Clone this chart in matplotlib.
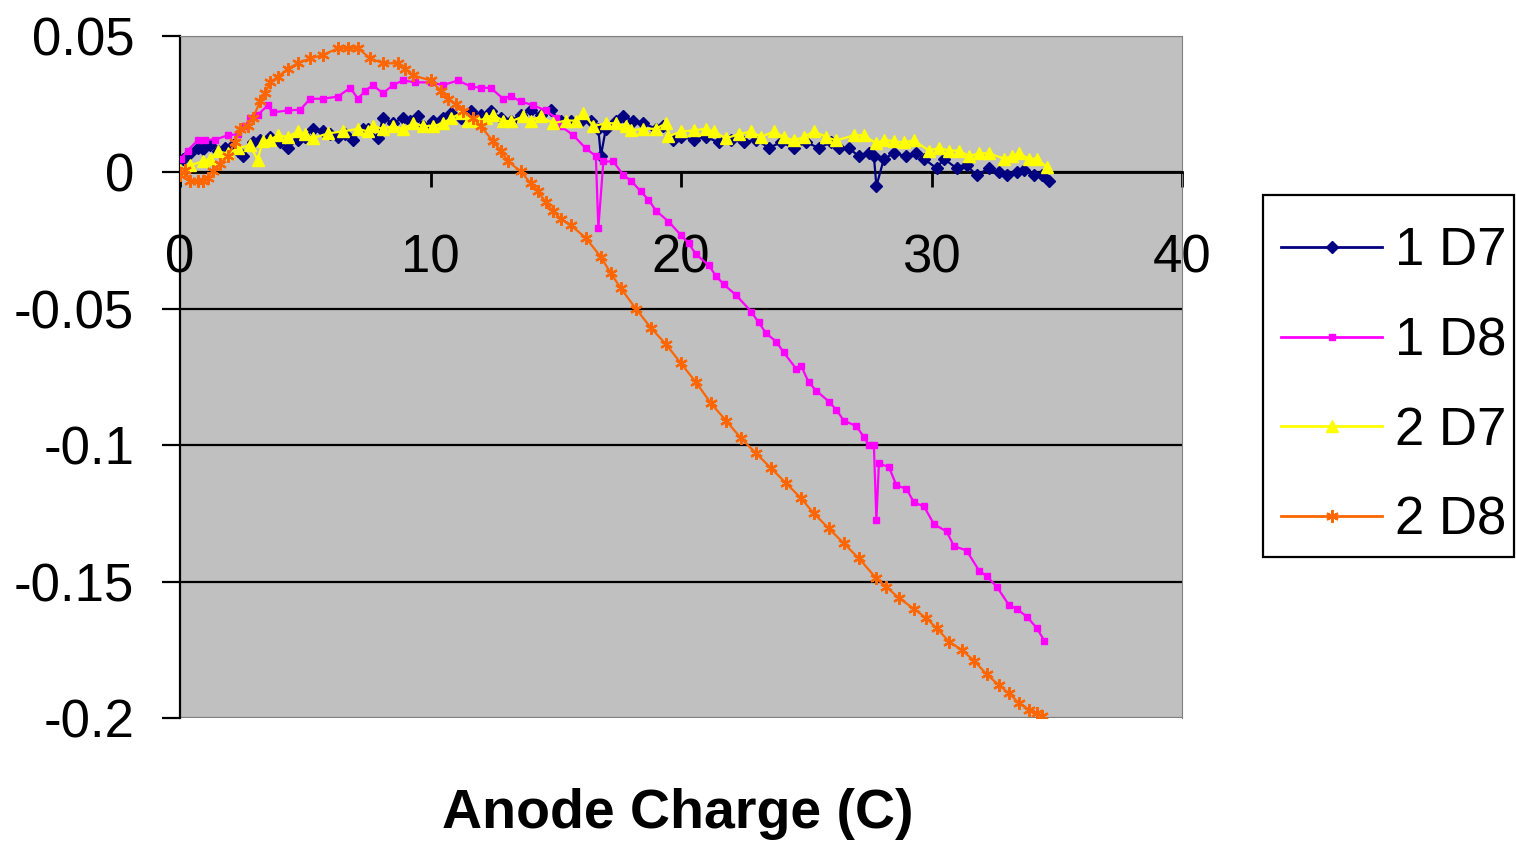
import matplotlib
matplotlib.use("Agg")
import matplotlib.pyplot as plt
from matplotlib.patches import Rectangle

plt.rcParams["font.family"] = ["Liberation Sans", "DejaVu Sans"]
plt.rcParams["axes.unicode_minus"] = False

# 1 D7 (navy, diamonds)
x_1d7 = [0.1, 0.4, 0.7, 0.9, 1.2, 1.5, 1.8, 2.1, 2.3, 2.5, 2.9, 3.2, 3.6, 4.0, 4.3,
         4.7, 5.0, 5.3, 5.7, 6.0, 6.3, 6.6, 6.9, 7.3, 7.5, 7.9, 8.1, 8.5, 8.9, 9.2,
         9.5, 9.7, 10.1, 10.5, 10.8, 11.2, 11.6, 12.0, 12.4, 12.8, 13.2, 13.6, 14.0,
         14.4, 14.8, 15.2, 15.6, 16.0, 16.4, 16.7, 16.8, 17.0, 17.4, 17.7, 18.1, 18.5,
         19.0, 19.3, 19.7, 20.0, 20.5, 21.0, 21.5, 22.0, 22.5, 23.0, 23.5, 24.0, 24.5,
         25.0, 25.5, 26.0, 26.3, 26.7, 27.1, 27.5, 27.7, 27.8, 28.1, 28.5, 29.0, 29.4,
         29.7, 30.2, 30.5, 31.0, 31.4, 31.8, 32.3, 32.7, 33.0, 33.4, 33.7, 34.1, 34.4,
         34.7]
y_1d7 = [0.005, 0.007, 0.009, 0.0085, 0.010, 0.008, 0.009, 0.010, 0.008, 0.006, 0.011,
         0.012, 0.013, 0.011, 0.009, 0.012, 0.013, 0.016, 0.015, 0.014, 0.013, 0.014,
         0.012, 0.016, 0.016, 0.0125, 0.020, 0.018, 0.020, 0.019, 0.0205, 0.017, 0.019,
         0.020, 0.0216, 0.020, 0.0224, 0.021, 0.0224, 0.020, 0.019, 0.021, 0.0227, 0.021,
         0.0227, 0.0187, 0.019, 0.0187, 0.019, 0.016, 0.006, 0.016, 0.019, 0.0205, 0.019,
         0.018, 0.016, 0.017, 0.012, 0.013, 0.012, 0.013, 0.011, 0.012, 0.011, 0.012,
         0.009, 0.011, 0.009, 0.011, 0.009, 0.011, 0.009, 0.0088, 0.006, 0.007, 0.006,
         -0.005, 0.005, 0.007, 0.006, 0.007, 0.005, 0.0015, 0.005, 0.0015, 0.0026, -0.001,
         0.0015, 0.0, -0.001, 0.0, 0.0007, -0.001, -0.001, -0.0033]

# 1 D8 (magenta, squares)
x_1d8 = [0.05, 0.3, 0.7, 1.0, 1.4, 1.9, 2.3, 2.6, 2.8, 3.1, 3.5, 3.7, 4.3, 4.8, 5.2,
         5.7, 6.3, 6.8, 7.1, 7.4, 7.7, 8.1, 8.5, 8.9, 9.4, 10.0, 10.5, 11.1, 11.6, 12.0,
         12.4, 12.9, 13.2, 13.6, 14.1, 14.6, 15.0, 15.2, 15.7, 16.2, 16.6, 16.7, 16.9,
         17.3, 17.7, 18.0, 18.4, 18.7, 19.0, 19.5, 20.0, 20.3, 20.6, 21.1, 21.4, 21.7,
         22.2, 22.8, 23.1, 23.4, 23.8, 24.1, 24.6, 24.8, 25.1, 25.4, 25.9, 26.2, 26.5,
         27.0, 27.3, 27.5, 27.7, 27.8, 27.9, 28.3, 28.6, 29.0, 29.3, 29.7, 30.1, 30.6,
         30.9, 31.4, 31.9, 32.2, 32.6, 33.1, 33.4, 33.8, 34.2, 34.5]
y_1d8 = [0.005, 0.008, 0.0117, 0.012, 0.012, 0.0136, 0.014, 0.017, 0.0198, 0.021, 0.0246,
         0.022, 0.0227, 0.023, 0.027, 0.027, 0.0278, 0.031, 0.027, 0.030, 0.032, 0.029,
         0.032, 0.0337, 0.033, 0.033, 0.032, 0.0337, 0.0315, 0.031, 0.031, 0.027, 0.028,
         0.026, 0.0246, 0.0227, 0.020, 0.017, 0.0136, 0.0088, 0.006, -0.0205, 0.004,
         0.004, -0.001, -0.003, -0.007, -0.010, -0.014, -0.018, -0.023, -0.026, -0.030,
         -0.034, -0.038, -0.041, -0.045, -0.051, -0.055, -0.059, -0.062, -0.066, -0.072,
         -0.071, -0.077, -0.080, -0.084, -0.087, -0.091, -0.093, -0.097, -0.100, -0.100,
         -0.1276, -0.1067, -0.108, -0.1147, -0.116, -0.121, -0.1224, -0.129, -0.1316,
         -0.137, -0.1386, -0.146, -0.148, -0.1518, -0.1587, -0.160, -0.1628, -0.167,
         -0.1716]

# 2 D7 (yellow, triangles)
x_2d7 = [0.0, 0.4, 0.9, 1.2, 1.5, 1.9, 2.3, 2.8, 3.1, 3.3, 3.6, 3.9, 4.3, 4.7, 5.0,
         5.3, 5.9, 6.5, 7.1, 7.5, 7.7, 8.1, 8.5, 8.9, 9.3, 9.7, 10.1, 10.5, 10.8, 11.2,
         11.5, 11.9, 12.2, 12.5, 12.9, 13.2, 13.7, 14.0, 14.4, 14.9, 15.4, 15.8, 16.1,
         16.5, 17.0, 17.4, 17.8, 18.0, 18.5, 19.0, 19.4, 19.5, 20.0, 20.5, 21.0, 21.3,
         21.8, 22.3, 22.8, 23.2, 23.7, 24.1, 24.5, 24.9, 25.3, 25.8, 26.2, 26.9, 27.3,
         27.8, 28.1, 28.5, 28.9, 29.3, 29.9, 30.3, 30.7, 31.1, 31.5, 31.9, 32.3, 32.9,
         33.2, 33.5, 33.9, 34.2, 34.6]
y_2d7 = [0.0007, 0.0026, 0.004, 0.005, 0.0077, 0.007, 0.0088, 0.010, 0.0044, 0.0114,
         0.012, 0.0136, 0.013, 0.015, 0.014, 0.0125, 0.0143, 0.015, 0.016, 0.015, 0.017,
         0.016, 0.017, 0.016, 0.018, 0.017, 0.017, 0.018, 0.0198, 0.0216, 0.019, 0.0187,
         0.020, 0.021, 0.019, 0.0187, 0.0205, 0.019, 0.0205, 0.018, 0.019, 0.019, 0.0216,
         0.017, 0.018, 0.018, 0.017, 0.0154, 0.016, 0.016, 0.018, 0.0132, 0.015, 0.0154,
         0.016, 0.015, 0.0125, 0.014, 0.015, 0.013, 0.015, 0.013, 0.0117, 0.013, 0.015,
         0.013, 0.0117, 0.0136, 0.0136, 0.0106, 0.012, 0.0114, 0.011, 0.0117, 0.008,
         0.009, 0.008, 0.008, 0.006, 0.007, 0.007, 0.005, 0.006, 0.007, 0.005, 0.005,
         0.002]

# 2 D8 (orange, stars)
x_2d8 = [0.0, 0.2, 0.4, 0.7, 0.9, 1.1, 1.3, 1.6, 1.9, 2.2, 2.4, 2.7, 2.9, 3.2, 3.4,
         3.6, 3.9, 4.3, 4.7, 5.2, 5.7, 6.3, 6.7, 7.1, 7.6, 8.1, 8.7, 9.0, 9.3, 10.0,
         10.4, 10.7, 11.0, 11.3, 11.7, 12.0, 12.5, 12.8, 13.1, 13.6, 14.0, 14.3, 14.6,
         14.9, 15.2, 15.6, 16.2, 16.8, 17.2, 17.6, 18.2, 18.8, 19.4, 20.0, 20.6, 21.2,
         21.8, 22.4, 23.0, 23.6, 24.2, 24.8, 25.3, 25.9, 26.5, 27.1, 27.8, 28.2, 28.7,
         29.3, 29.8, 30.2, 30.7, 31.2, 31.7, 32.2, 32.7, 33.1, 33.5, 33.9, 34.2, 34.4]
y_2d8 = [-0.001, 0.001, -0.0033, -0.003, -0.0033, -0.002, 0.0004, 0.003, 0.006, 0.011,
         0.016, 0.017, 0.0198, 0.026, 0.029, 0.033, 0.035, 0.038, 0.040, 0.0418, 0.043,
         0.0455, 0.0455, 0.0455, 0.0418, 0.040, 0.040, 0.038, 0.0356, 0.0337, 0.030,
         0.027, 0.025, 0.0224, 0.020, 0.017, 0.0114, 0.008, 0.004, 0.0004, -0.004,
         -0.007, -0.011, -0.0143, -0.017, -0.0194, -0.024, -0.031, -0.037, -0.0425,
         -0.050, -0.057, -0.063, -0.070, -0.077, -0.0847, -0.091, -0.0975, -0.103,
         -0.1085, -0.114, -0.1195, -0.125, -0.1305, -0.136, -0.1415, -0.1488, -0.152,
         -0.156, -0.160, -0.1635, -0.167, -0.172, -0.175, -0.179, -0.184, -0.188,
         -0.191, -0.1946, -0.197, -0.1983, -0.1994]

y_ticks = [-0.2, -0.15, -0.1, -0.05, 0, 0.05]
y_tick_labels = ["-0.2", "-0.15", "-0.1", "-0.05", "0", "0.05"]
x_ticks = [0, 10, 20, 30, 40]
x_tick_labels = ["0", "10", "20", "30", "40"]

W, H = 1516, 843
fig = plt.figure(figsize=(W / 100, H / 100), dpi=100)
ax = fig.add_axes([180 / W, 1 - 718 / H, 1002 / W, 682 / H])
ax.set_facecolor("#C0C0C0")

ax.plot(x_1d7, y_1d7, color="#000080", marker="D", markersize=6, linewidth=1.6,
        label="1 D7", zorder=3)
ax.plot(x_1d8, y_1d8, color="#FF00FF", marker="s", markersize=5, linewidth=1.6,
        label="1 D8", zorder=3)
ax.plot(x_2d7, y_2d7, color="#FFFF00", marker="^", markersize=8, linewidth=1.6,
        label="2 D7", zorder=3)
ax.plot(x_2d8, y_2d8, color="#FF6600", marker=(6, 2, 0), markersize=9, linewidth=1.6,
        markeredgewidth=1.6, label="2 D8", zorder=3)

ax.set_xlim(0, 40)
ax.set_ylim(-0.2, 0.05)
ax.set_yticks(y_ticks)
ax.set_yticklabels(y_tick_labels)
ax.set_xticks(x_ticks)
ax.set_xticklabels(x_tick_labels)

ax.yaxis.grid(True, color="black", linewidth=1.6)
grid = ax.get_ygridlines()
grid[0].set_color("#808080")
grid[-1].set_color("#808080")

ax.spines["bottom"].set_position(("data", 0))
ax.spines["bottom"].set_linewidth(2.0)
ax.spines["left"].set_linewidth(1.6)
ax.spines["top"].set_color("#808080")
ax.spines["right"].set_color("#808080")

ax.tick_params(axis="y", direction="out", length=13, width=1.6, pad=20, labelsize=38)
ax.tick_params(axis="x", direction="out", length=11, width=2.0, pad=33, labelsize=38)

fig.text(0.447, 1 - 814 / H, "Anode Charge (C)", fontsize=40, fontweight="bold",
         ha="center", va="center")

# legend entries without frame, box drawn separately (Excel-style tall box)
leg = ax.legend(loc="upper left", bbox_to_anchor=(1263 / W, 1 - 208 / H),
                bbox_transform=fig.transFigure, borderaxespad=0, fontsize=38,
                frameon=False, numpoints=1, handlelength=1.9, handletextpad=0.25,
                labelspacing=0.75, borderpad=0.35)
for line in leg.get_lines():
    line.set_linewidth(2.0)

fig.patches.append(Rectangle((1263 / W, 1 - 557 / H), 251 / W, 362 / H,
                             transform=fig.transFigure, fill=False,
                             edgecolor="black", linewidth=1.6))

fig.savefig("out.png", dpi=100)
